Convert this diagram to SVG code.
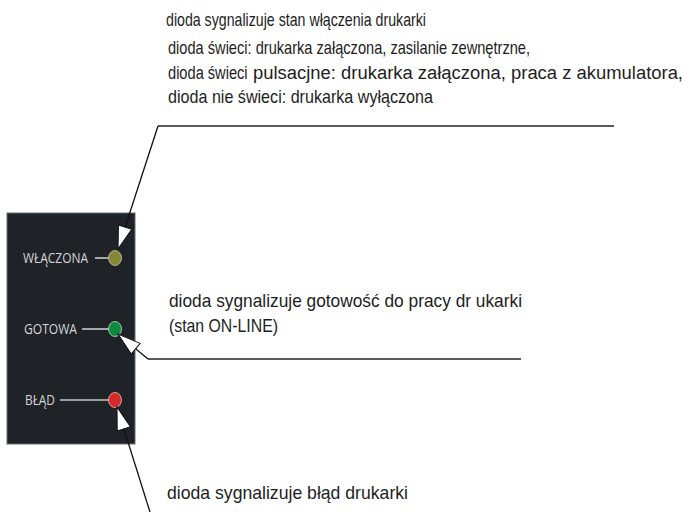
<svg xmlns="http://www.w3.org/2000/svg" width="689" height="512" viewBox="0 0 689 512">
<defs>
<style>
.t{font-family:"Liberation Sans",Arial,sans-serif;font-size:19px;fill:#1e1e1e}
.t2{font-family:"Liberation Sans",Arial,sans-serif;font-size:18px;fill:#1e1e1e}
.p{font-family:"Open Sans","Noto Sans",sans-serif;font-size:14px;fill:#d6d6d6}
.lead{stroke:#c8c8c8;stroke-width:1.6;fill:none}
.con{stroke:#111;stroke-width:1.3;fill:none;marker-end:url(#ah)}
.rule{stroke:#222;stroke-width:1.3;fill:none}
</style>
<marker id="ah" markerUnits="userSpaceOnUse" markerWidth="26" markerHeight="18" viewBox="-24 -9 26 18" refX="0" refY="0" orient="auto">
<path d="M0,0 L-23,-7 L-23,7 Z" fill="#fff" stroke="#111" stroke-width="1"/>
</marker>
</defs>
<rect id="panel" x="7" y="213" width="128" height="231" fill="#1f2328" stroke="#5f6e74" stroke-width="1"/>
<g id="led-wlaczona">
<text class="p" x="23" y="263" textLength="65" lengthAdjust="spacingAndGlyphs">WŁĄCZONA</text>
<line class="lead" x1="95" y1="258" x2="109" y2="258"/>
<ellipse cx="115" cy="258" rx="6.5" ry="7.5" fill="#86863a" stroke="#c8c8a0" stroke-width="0.8"/>
</g>
<g id="led-gotowa">
<text class="p" x="24" y="334" textLength="53" lengthAdjust="spacingAndGlyphs">GOTOWA</text>
<line class="lead" x1="82" y1="329" x2="109" y2="329"/>
<ellipse cx="115" cy="329" rx="6.5" ry="7.5" fill="#0f8a3e" stroke="#c0e0c8" stroke-width="0.8"/>
</g>
<g id="led-blad">
<text class="p" x="25" y="405" textLength="30" lengthAdjust="spacingAndGlyphs">BŁĄD</text>
<line class="lead" x1="60" y1="400" x2="109" y2="400"/>
<ellipse cx="115" cy="400" rx="6.5" ry="7.5" fill="#d42a2a" stroke="#f0c0c0" stroke-width="0.8"/>
</g>
<g id="note-wlaczona">
<text class="t" x="166" y="26" textLength="260" lengthAdjust="spacingAndGlyphs">dioda sygnalizuje stan włączenia drukarki</text>
<text class="t" x="168" y="54" textLength="362" lengthAdjust="spacingAndGlyphs">dioda świeci: drukarka załączona, zasilanie zewnętrzne,</text>
<text class="t" transform="translate(168,79) scale(0.77,1)" x="0" y="0">dioda świeci</text>
<text class="t2" x="253" y="79" textLength="430" lengthAdjust="spacingAndGlyphs">pulsacjne: drukarka załączona, praca z akumulatora,</text>
<text class="t" x="168" y="103" textLength="265" lengthAdjust="spacingAndGlyphs">dioda nie świeci: drukarka wyłączona</text>
</g>
<g id="note-gotowa">
<text class="t" x="169" y="307" textLength="353" lengthAdjust="spacingAndGlyphs">dioda sygnalizuje gotowość do pracy dr ukarki</text>
<text class="t" x="169" y="332" textLength="109" lengthAdjust="spacingAndGlyphs">(stan ON-LINE)</text>
</g>
<g id="note-blad">
<text class="t" x="167" y="499" textLength="241" lengthAdjust="spacingAndGlyphs">dioda sygnalizuje błąd drukarki</text>
</g>
<g id="connectors">
<line class="rule" x1="158" y1="126" x2="614" y2="126"/>
<polyline class="con" points="158,126 118,249"/>
<line class="rule" x1="148" y1="359" x2="521" y2="359"/>
<polyline class="con" points="148,359 118,334"/>
<polyline class="con" points="150,512 117,407"/>
</g>
</svg>
